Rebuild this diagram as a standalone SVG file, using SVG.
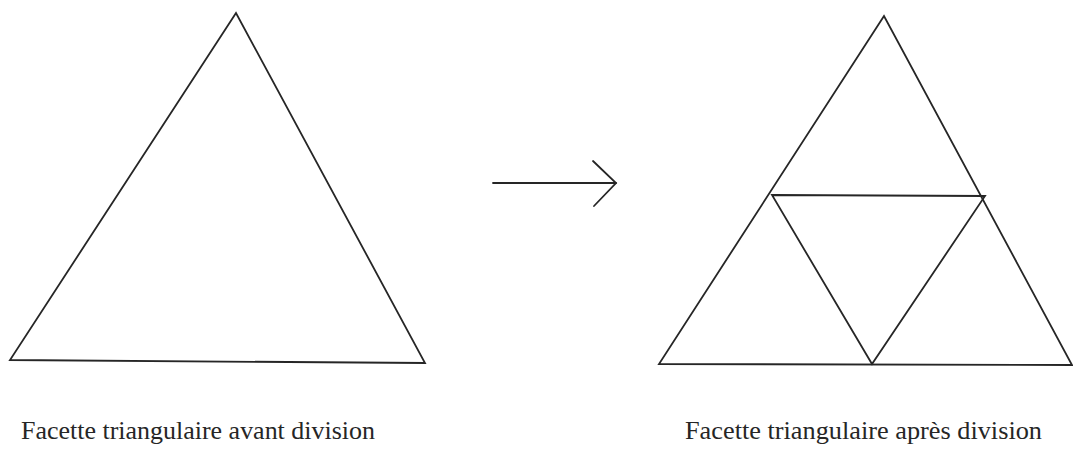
<svg xmlns="http://www.w3.org/2000/svg" width="1073" height="453" viewBox="0 0 1073 453">
<style>
.s{fill:none;stroke:#262626;stroke-width:1.8;stroke-linejoin:miter;stroke-linecap:round}
.t{font-family:'Liberation Serif','Times New Roman',Times,serif;font-size:26px;fill:#262626}
</style>
<rect width="1073" height="453" fill="#ffffff"/>
<g id="before">
<polygon class="s" points="236,13 10,360 425,363"/>
<text class="t" x="21" y="439" textLength="354" lengthAdjust="spacingAndGlyphs">Facette triangulaire avant division</text>
</g>
<g id="connectors">
<line class="s" x1="493" y1="183" x2="616" y2="183"/>
<polyline class="s" points="593,161 616,183 594,206"/>
</g>
<g id="after">
<polygon class="s" points="884,16 659,364 1072,365"/>
<polygon class="s" points="772,195 985,196 872,364"/>
<text class="t" x="685" y="439" textLength="357" lengthAdjust="spacingAndGlyphs">Facette triangulaire après division</text>
</g>
</svg>
